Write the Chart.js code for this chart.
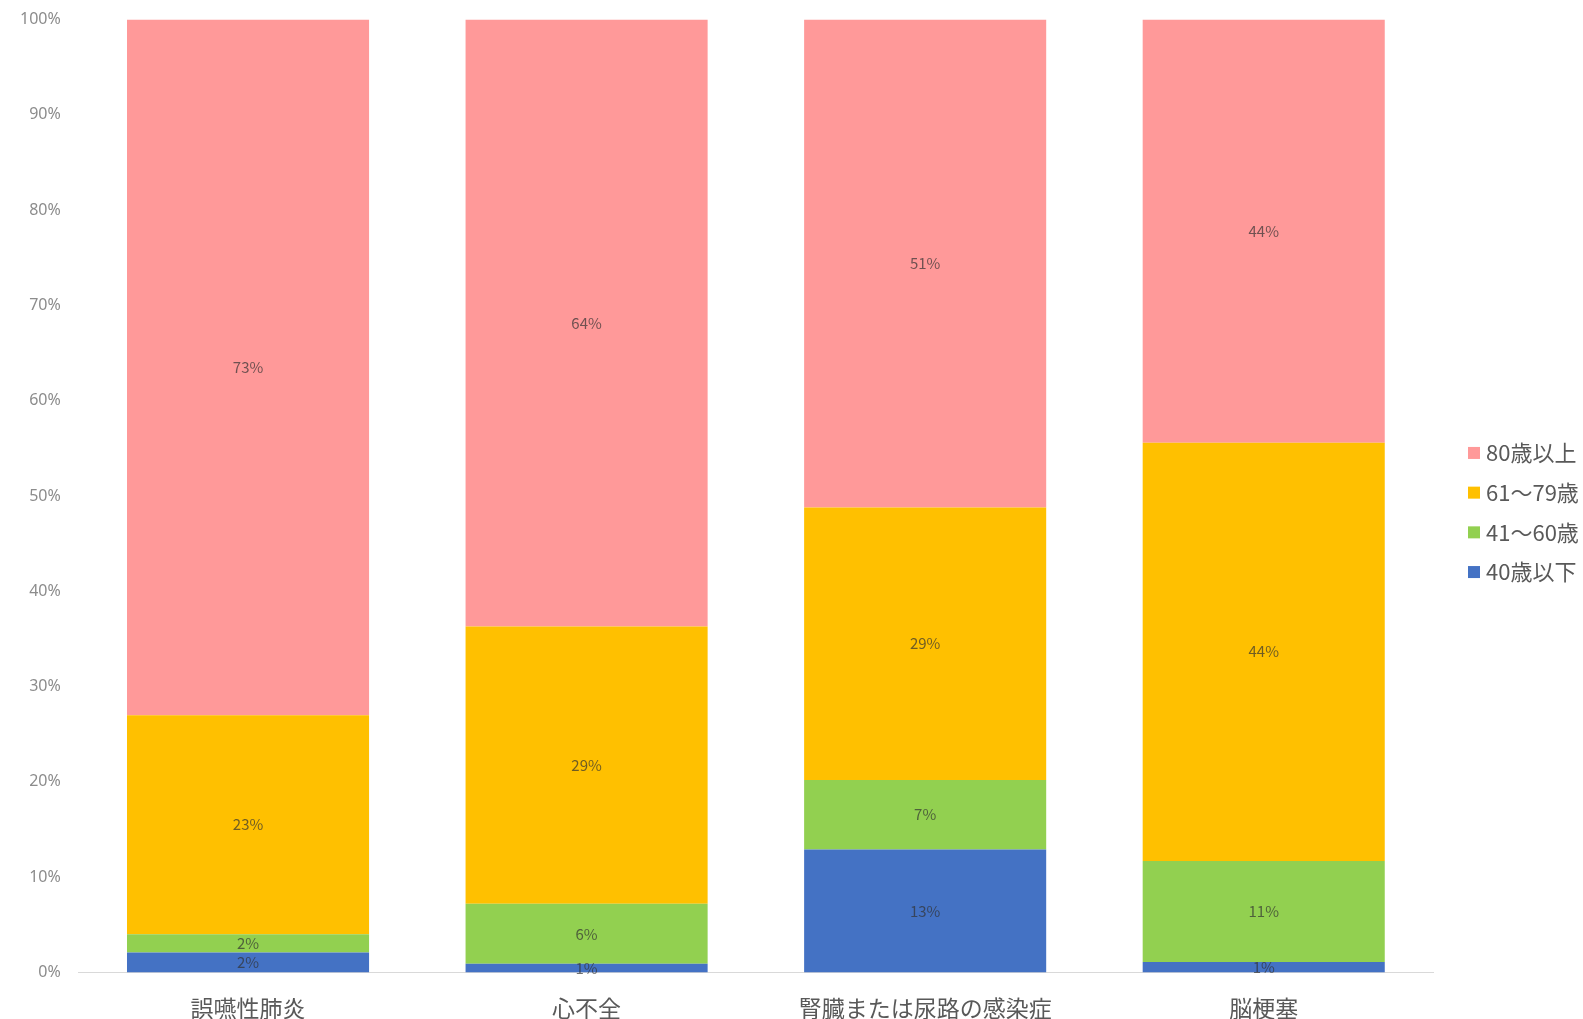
<!DOCTYPE html>
<html>
<head>
<meta charset="utf-8">
<script src="https://cdn.jsdelivr.net/npm/chart.js@4"></script>
<style>
html,body{margin:0;padding:0;background:#fff;}
#wrap{width:1583px;height:1019px;position:relative;}
</style>
</head>
<body>
<div id="wrap"><canvas id="c"></canvas></div>
<script>
const categories = ['誤嚥性肺炎', '心不全', '腎臓または尿路の感染症', '脳梗塞'];
const seriesNames = ['40歳以下', '41～60歳', '61～79歳', '80歳以上'];
const under40 = [2.1, 0.9, 12.9, 1.1];
const age41to60 = [1.9, 6.3, 7.3, 10.6];
const age61to79 = [23.0, 29.1, 28.6, 43.9];
const over80 = [73.0, 63.7, 51.2, 44.4];
const yTicks = [0, 10, 20, 30, 40, 50, 60, 70, 80, 90, 100];
const colors = ['#4472C4', '#92D050', '#FFC000', '#FF9999'];

const seriesValues = [under40, age41to60, age61to79, over80];

const labelPlugin = {
  id: 'segLabels',
  afterDatasetsDraw(chart) {
    const ctx = chart.ctx;
    ctx.save();
    ctx.font = '15px "Noto Sans CJK JP", "Noto Sans", sans-serif';
    ctx.fillStyle = 'rgba(50,50,50,0.7)';
    ctx.textAlign = 'center';
    ctx.textBaseline = 'middle';
    chart.data.datasets.forEach((ds, di) => {
      const meta = chart.getDatasetMeta(di);
      meta.data.forEach((el, i) => {
        const v = ds.data[i];
        const yc = (el.y + el.base) / 2;
        ctx.fillText(Math.round(v) + '%', el.x, yc);
      });
    });
    ctx.restore();
  }
};

const legendPlugin = {
  id: 'sideLegend',
  afterDraw(chart) {
    const ctx = chart.ctx;
    const dss = chart.data.datasets.slice().reverse();
    const x0 = chart.chartArea.right + 35;
    const gap = 39.7;
    const cy = chart.height / 2 + 3;
    ctx.save();
    ctx.font = '22px "Noto Sans CJK JP", "Noto Sans", sans-serif';
    ctx.textBaseline = 'middle';
    ctx.textAlign = 'left';
    dss.forEach((ds, i) => {
      const y = cy + (i - (dss.length - 1) / 2) * gap;
      ctx.fillStyle = ds.backgroundColor;
      ctx.fillRect(x0, y - 6, 12, 12);
      ctx.fillStyle = '#595959';
      ctx.fillText(ds.label, x0 + 18, y);
    });
    ctx.restore();
  }
};

new Chart(document.getElementById('c'), {
  type: 'bar',
  data: {
    labels: categories,
    datasets: seriesNames.map((n, i) => ({
      label: n,
      data: seriesValues[i],
      backgroundColor: colors[i],
      borderWidth: 0,
      barPercentage: 0.715,
      categoryPercentage: 1.0
    }))
  },
  options: {
    responsive: true,
    maintainAspectRatio: false,
    animation: false,
    layout: { padding: { top: 4, right: 150, left: 10, bottom: -17 } },
    plugins: {
      legend: { display: false },
      tooltip: { enabled: false }
    },
    scales: {
      x: {
        stacked: true,
        grid: { display: false },
        border: { display: true, color: '#d9d9d9', width: 1 },
        ticks: {
          color: '#595959',
          padding: 14,
          font: { size: 23, family: '"Noto Sans CJK JP", sans-serif' }
        }
      },
      y: {
        stacked: true,
        min: 0,
        max: 100,
        afterBuildTicks(axis) { axis.ticks = yTicks.map(v => ({ value: v })); },
        grid: { display: false },
        border: { display: false },
        ticks: {
          color: '#8c8c8c',
          padding: 10,
          font: { size: 16, family: '"Noto Sans", sans-serif' },
          callback: v => v + '%'
        }
      }
    }
  },
  plugins: [labelPlugin, legendPlugin]
});
</script>
</body>
</html>
